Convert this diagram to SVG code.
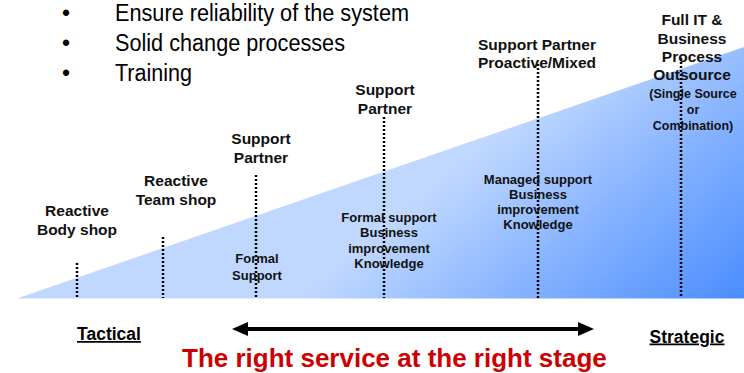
<svg xmlns="http://www.w3.org/2000/svg" width="744" height="373" viewBox="0 0 744 373">
  <defs>
    <linearGradient id="wedgeGrad" gradientUnits="userSpaceOnUse" x1="560" y1="80" x2="744" y2="300">
      <stop offset="0" stop-color="#c0d8ff"/>
      <stop offset="0.45" stop-color="#88b4ff"/>
      <stop offset="1" stop-color="#4a8dff"/>
    </linearGradient>
    <style>
      .bul { font-family: "Liberation Sans Narrow", "Liberation Sans", Arial, sans-serif; font-size: 23px; fill: #000; }
      .lbl { font-family: "Liberation Sans", Arial, sans-serif; font-size: 15.5px; font-weight: bold; fill: #111; text-anchor: middle; }
      .sm { font-family: "Liberation Sans", Arial, sans-serif; font-size: 13px; font-weight: bold; fill: #111; text-anchor: middle; }
      .xs { font-family: "Liberation Sans", Arial, sans-serif; font-size: 12.5px; font-weight: bold; fill: #111; text-anchor: middle; }
      .dot { stroke: #000; stroke-width: 2.5; stroke-dasharray: 2 2; fill: none; }
      .axis { font-family: "Liberation Sans", Arial, sans-serif; font-size: 17.5px; font-weight: bold; fill: #000; text-decoration: underline; text-anchor: middle; }
      .title { font-family: "Liberation Sans", Arial, sans-serif; font-size: 26px; font-weight: bold; fill: #cc0000; }
    </style>
  </defs>

  <rect x="0" y="0" width="744" height="373" fill="#fff"/>

  <!-- bullet list -->
  <g id="bullets">
    <text class="bul" x="66" y="21" text-anchor="middle">•</text>
    <text class="bul" x="115" y="21" textLength="294" lengthAdjust="spacingAndGlyphs">Ensure reliability of the system</text>
    <text class="bul" x="66" y="51" text-anchor="middle">•</text>
    <text class="bul" x="115" y="51" textLength="230" lengthAdjust="spacingAndGlyphs">Solid change processes</text>
    <text class="bul" x="66" y="81" text-anchor="middle">•</text>
    <text class="bul" x="115" y="81" textLength="77" lengthAdjust="spacingAndGlyphs">Training</text>
  </g>

  <!-- wedge -->
  <polygon id="wedge" points="17,298.5 744,47 744,298.5" fill="url(#wedgeGrad)"/>

  <!-- stage markers -->
  <g id="markers">
    <line class="dot" x1="77" y1="263" x2="77" y2="298"/>
    <line class="dot" x1="163" y1="237" x2="163" y2="298"/>
    <line class="dot" x1="256" y1="175" x2="256" y2="298"/>
    <line class="dot" x1="384" y1="117" x2="384" y2="298"/>
    <line class="dot" x1="538" y1="64" x2="538" y2="298"/>
    <line class="dot" x1="681" y1="58" x2="681" y2="298"/>
  </g>

  <g id="reactive-body-shop">
    <text class="lbl" x="77" y="216">Reactive</text>
    <text class="lbl" x="77" y="235">Body shop</text>
  </g>

  <g id="reactive-team-shop">
    <text class="lbl" x="176" y="186">Reactive</text>
    <text class="lbl" x="176" y="205">Team shop</text>
  </g>

  <g id="support-partner-1">
    <text class="lbl" x="261" y="144">Support</text>
    <text class="lbl" x="261" y="163">Partner</text>
    <text class="sm" x="257" y="263">Formal</text>
    <text class="sm" x="257" y="280">Support</text>
  </g>

  <g id="support-partner-2">
    <text class="lbl" x="385" y="95">Support</text>
    <text class="lbl" x="385" y="114">Partner</text>
    <text class="sm" x="389" y="222">Formal support</text>
    <text class="sm" x="389" y="237">Business</text>
    <text class="sm" x="389" y="252.5">improvement</text>
    <text class="sm" x="389" y="267.5">Knowledge</text>
  </g>

  <g id="support-partner-proactive">
    <text class="lbl" x="537" y="50">Support Partner</text>
    <text class="lbl" x="537" y="68">Proactive/Mixed</text>
    <text class="sm" x="538" y="183.5">Managed support</text>
    <text class="sm" x="538" y="198.5">Business</text>
    <text class="sm" x="538" y="214">improvement</text>
    <text class="sm" x="538" y="229">Knowledge</text>
  </g>

  <g id="full-outsource">
    <text class="lbl" x="692" y="25">Full IT &amp;</text>
    <text class="lbl" x="692" y="44">Business</text>
    <text class="lbl" x="692" y="62">Process</text>
    <text class="lbl" x="692" y="80">Outsource</text>
    <text class="xs" x="693" y="98">(Single Source</text>
    <text class="xs" x="693" y="114">or</text>
    <text class="xs" x="693" y="130">Combination)</text>
  </g>

  <g id="tactical">
    <text class="axis" x="109" y="340">Tactical</text>
  </g>

  <g id="strategic">
    <text class="axis" x="687" y="342.5">Strategic</text>
  </g>

  <g id="connectors">
    <line x1="246" y1="329" x2="579" y2="329" stroke="#000" stroke-width="4"/>
    <polygon points="232,329 248,322 248,336" fill="#000"/>
    <polygon points="594,329 578,322 578,336" fill="#000"/>
  </g>

  <g id="caption">
    <text class="title" x="182" y="367">The right service at the right stage</text>
  </g>
</svg>
